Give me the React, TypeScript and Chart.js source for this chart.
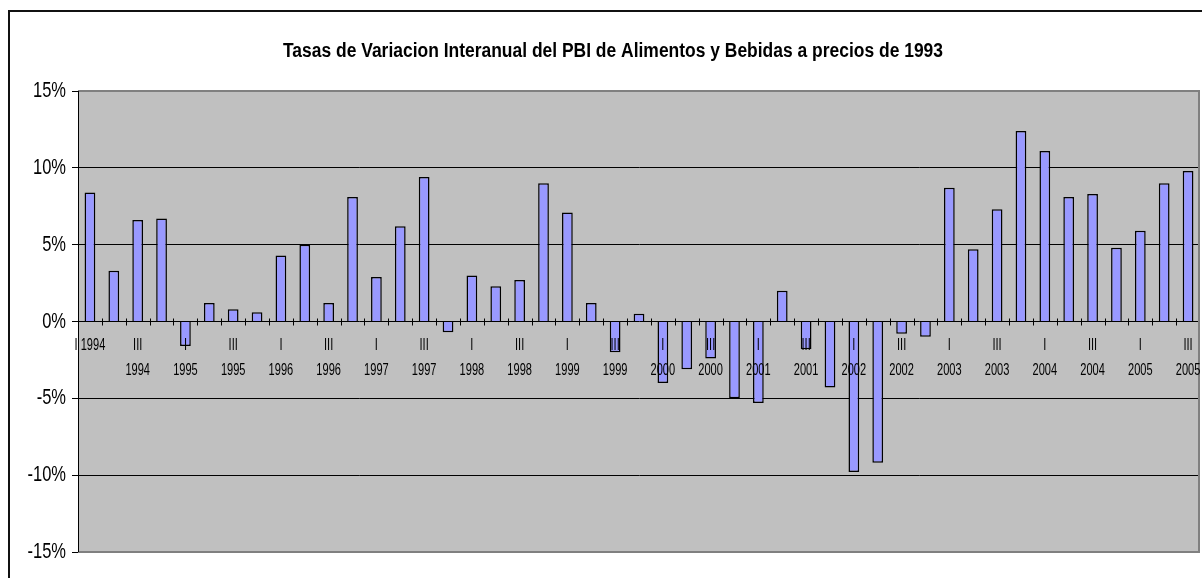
import React, { useEffect, useRef } from 'react';
import { Chart, registerables } from 'chart.js';

Chart.register(...registerables);

const years = ['1994', '1995', '1996', '1997', '1998', '1999', '2000', '2001', '2002', '2003', '2004', '2005'];
const quarters = ['I', 'II', 'III', 'IV'];

// Interannual growth rate (%) per quarter, 1994-I .. 2005-III
const growthRates = [
  8.4, 3.3, 6.6, 6.7,
  -1.6, 1.2, 0.8, 0.6,
  4.3, 5.0, 1.2, 8.1,
  2.9, 6.2, 9.4, -0.7,
  3.0, 2.3, 2.7, 9.0,
  7.1, 1.2, -2.0, 0.5,
  -4.0, -3.1, -2.4, -5.0,
  -5.3, 2.0, -1.8, -4.3,
  -9.8, -9.2, -0.8, -1.0,
  8.7, 4.7, 7.3, 12.4,
  11.1, 8.1, 8.3, 4.8,
  5.9, 9.0, 9.8,
];

const categories = growthRates.map((_, i) => `${quarters[i % 4]} ${years[Math.floor(i / 4)]}`);

const yTicks = [-15, -10, -5, 0, 5, 10, 15];
const titleText = 'Tasas de Variacion Interanual del PBI de Alimentos y Bebidas a precios de 1993';

const FONT = "'Liberation Sans', Arial, sans-serif";
const X_FONT_SIZE = 17;
const Y_FONT_SIZE = 22;
const TITLE_FONT_SIZE = 20;
const TITLE_WIDTH = 660;

// Narrow-face emulation: horizontal squeeze of the drawn glyphs around their anchor
function squeezeFor(ctx: CanvasRenderingContext2D, text: string): number {
  const m = /(\d+(?:\.\d+)?)px/.exec(ctx.font);
  const size = m ? parseFloat(m[1]) : 0;
  if (text === titleText) {
    const w = ctx.measureText(text).width;
    return w > 0 ? TITLE_WIDTH / w : 1;
  }
  if (size === X_FONT_SIZE) return 0.65;
  if (size === Y_FONT_SIZE) return 0.75;
  return 1;
}

const framePlugin = {
  id: 'frameAndBg',
  afterLayout(chart: any) {
    const t = chart.titleBlock;
    if (t) {
      t.left += 13;
      t.right += 13;
    }
  },
  beforeDraw(chart: any) {
    const { ctx, chartArea } = chart;
    ctx.save();
    ctx.fillStyle = '#C0C0C0';
    ctx.fillRect(chartArea.left, chartArea.top, chartArea.right - chartArea.left, chartArea.bottom - chartArea.top);
    ctx.strokeStyle = '#111';
    ctx.lineWidth = 2;
    ctx.beginPath();
    ctx.moveTo(9, 578);
    ctx.lineTo(9, 11);
    ctx.lineTo(1202, 11);
    ctx.stroke();
    ctx.restore();
  },
  afterDatasetsDraw(chart: any) {
    const { ctx, chartArea, scales } = chart;
    const x = scales.x;
    const y0 = scales.y.getPixelForValue(0);
    ctx.save();
    ctx.strokeStyle = '#000';
    ctx.lineWidth = 1;
    ctx.beginPath();
    for (let i = 0; i < categories.length - 1; i++) {
      const bx = Math.round((x.getPixelForValue(i) + x.getPixelForValue(i + 1)) / 2) + 0.5;
      ctx.moveTo(bx, y0 - 3);
      ctx.lineTo(bx, y0 + 4);
    }
    ctx.stroke();
    // plot border
    ctx.strokeStyle = '#808080';
    ctx.lineWidth = 2;
    ctx.beginPath();
    ctx.moveTo(chartArea.left, chartArea.top);
    ctx.lineTo(chartArea.right - 1, chartArea.top);
    ctx.lineTo(chartArea.right - 1, chartArea.bottom);
    ctx.lineTo(chartArea.left, chartArea.bottom);
    ctx.stroke();
    ctx.strokeStyle = '#000';
    ctx.lineWidth = 1;
    ctx.beginPath();
    ctx.moveTo(chartArea.left + 0.5, chartArea.top);
    ctx.lineTo(chartArea.left + 0.5, chartArea.bottom);
    ctx.stroke();
    ctx.restore();
  },
};

export default function App() {
  const canvasRef = useRef<HTMLCanvasElement | null>(null);

  useEffect(() => {
    const canvas = canvasRef.current;
    if (!canvas) return;
    const ctx = canvas.getContext('2d') as CanvasRenderingContext2D;
    const origFillText = ctx.fillText.bind(ctx);
    (ctx as any).fillText = (text: string, x: number, y: number, maxWidth?: number) => {
      const f = squeezeFor(ctx, String(text));
      if (f === 1) {
        if (maxWidth === undefined) origFillText(text, x, y);
        else origFillText(text, x, y, maxWidth);
        return;
      }
      ctx.save();
      ctx.translate(x, y);
      ctx.scale(f, 1);
      origFillText(text, 0, 0);
      ctx.restore();
    };

    const chart = new Chart(ctx, {
      type: 'bar',
      data: {
        labels: categories,
        datasets: [
          {
            label: 'Variación interanual',
            data: growthRates,
            backgroundColor: '#9999FF',
            borderColor: '#000',
            borderWidth: 1.5,
            barPercentage: 0.45,
            categoryPercentage: 1,
          },
        ],
      },
      options: {
        animation: false,
        responsive: true,
        maintainAspectRatio: false,
        layout: { padding: { left: 0, right: 2, top: 0, bottom: 26 } },
        plugins: {
          legend: { display: false },
          tooltip: { enabled: false },
          title: {
            display: true,
            text: titleText,
            color: '#000',
            font: { family: FONT, size: TITLE_FONT_SIZE, weight: 'bold', lineHeight: 1.2 },
            padding: { top: 39, bottom: 28 },
          },
        },
        scales: {
          x: {
            type: 'category',
            position: { y: 0 } as any,
            offset: true,
            afterFit: (scale: any) => {
              scale.paddingLeft = 0;
              scale.paddingRight = 0;
            },
            border: { display: false },
            grid: { display: true, drawOnChartArea: false, drawTicks: true, tickLength: 8, color: 'transparent' },
            ticks: {
              z: 1,
              autoSkip: false,
              maxRotation: 0,
              minRotation: 0,
              padding: 3,
              color: '#000',
              font: { family: FONT, size: X_FONT_SIZE, lineHeight: 1.5 },
              callback: (_v: any, i: number) => {
                if (i % 2 !== 0) return '';
                const q = quarters[i % 4];
                const yr = years[Math.floor(i / 4)];
                if (i === 0) return `${q} ${yr}`;
                return [q, yr];
              },
            },
          },
          y: {
            min: -15,
            max: 15,
            afterFit: (scale: any) => {
              scale.width = 78;
            },
            afterBuildTicks: (scale: any) => {
              scale.ticks = yTicks.map((v) => ({ value: v }));
            },
            border: { display: true, color: '#000', width: 1 },
            grid: {
              color: (c: any) => (c.tick && Math.abs(c.tick.value) === 15 ? 'transparent' : '#000'),
              tickColor: '#000',
              tickLength: 6,
              lineWidth: 1,
            },
            ticks: {
              padding: 6,
              color: '#000',
              font: { family: FONT, size: Y_FONT_SIZE },
              callback: (v: any) => `${v}%`,
            },
          },
        },
      },
      plugins: [framePlugin],
    });
    return () => chart.destroy();
  }, []);

  return (
    <div style={{ position: 'fixed', left: 0, top: 0, width: 1202, height: 578, overflow: 'hidden', background: '#fff' }}>
      <canvas ref={canvasRef} />
    </div>
  );
}
